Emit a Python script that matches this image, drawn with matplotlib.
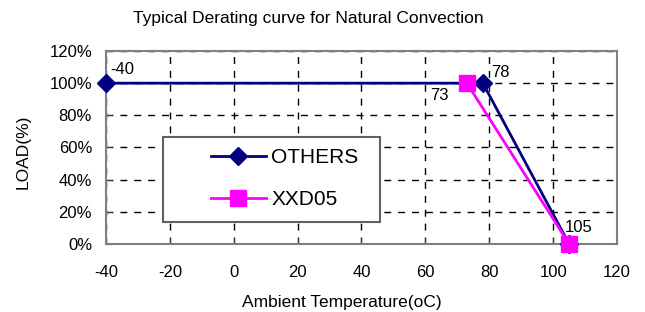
import matplotlib.pyplot as plt
from matplotlib.patches import Rectangle

plt.rcParams['font.family'] = ['Liberation Sans', 'DejaVu Sans']
plt.rcParams['axes.unicode_minus'] = False

# data
others_temp = [-40, 78, 105]
others_load = [100, 100, 0]
xxd05_temp = [73, 105]
xxd05_load = [100, 0]
x_ticks = [-40, -20, 0, 20, 40, 60, 80, 100, 120]
y_ticks = [0, 20, 40, 60, 80, 100, 120]

fig = plt.figure(figsize=(6.45, 3.12), dpi=100)
ax = fig.add_axes([0.1643, 0.218, 0.7923, 0.6185])

ax.plot(others_temp, others_load, color='#000080', lw=2, marker='D',
        markersize=9, label='OTHERS', zorder=3, clip_on=False)
ax.plot(xxd05_temp, xxd05_load, color='#ff00ff', lw=2, marker='s',
        markersize=11, label='XXD05', zorder=4, clip_on=False)

ax.set_xlim(-40, 120)
ax.set_ylim(0, 120)
ax.set_xticks(x_ticks)
ax.set_yticks(y_ticks)
ax.set_yticklabels(['{}%'.format(v) for v in y_ticks])
ax.tick_params(labelsize=12, length=4, color='#404040', direction='in')
ax.tick_params(axis='x', pad=15)
ax.tick_params(axis='y', pad=10)
ax.grid(True, color='black', linestyle=(0, (5, 5)), linewidth=1)
for side in ax.spines.values():
    side.set_color('#808080')
    side.set_linewidth(1.5)

fig.text(0.530, 0.029, 'Ambient Temperature(oC)', fontsize=12.5,
         ha='center', va='center')
fig.text(0.036, 0.513, 'LOAD(%)', fontsize=12.5, rotation=90,
         ha='center', va='center')
fig.text(0.4775, 0.942, 'Typical Derating curve for Natural Convection',
         fontsize=12.5, ha='center', va='center')

# point labels
ax.annotate('-40', (-40, 100), xytext=(3, 10), textcoords='offset points',
            fontsize=12, va='center')
ax.annotate('78', (78, 100), xytext=(6, 8), textcoords='offset points',
            fontsize=12, va='center')
ax.annotate('73', (73, 100), xytext=(-13, -9), textcoords='offset points',
            fontsize=12, va='center', ha='right')
ax.annotate('105', (105, 0), xytext=(-3, 12), textcoords='offset points',
            fontsize=12, va='center')

# legend box with a frame drawn separately
ax.add_patch(Rectangle((0.1115, 0.114), 0.4245, 0.44, transform=ax.transAxes,
                       facecolor='white', edgecolor='#606060', lw=1.5,
                       zorder=5))
leg = ax.legend(loc='center left', bbox_to_anchor=(0.205, 0.337),
                fontsize=15, frameon=False, borderpad=0, borderaxespad=0,
                labelspacing=1.1, handlelength=2.65, handletextpad=0.25)
leg.set_zorder(6)

fig.savefig('out.png', dpi=100)
